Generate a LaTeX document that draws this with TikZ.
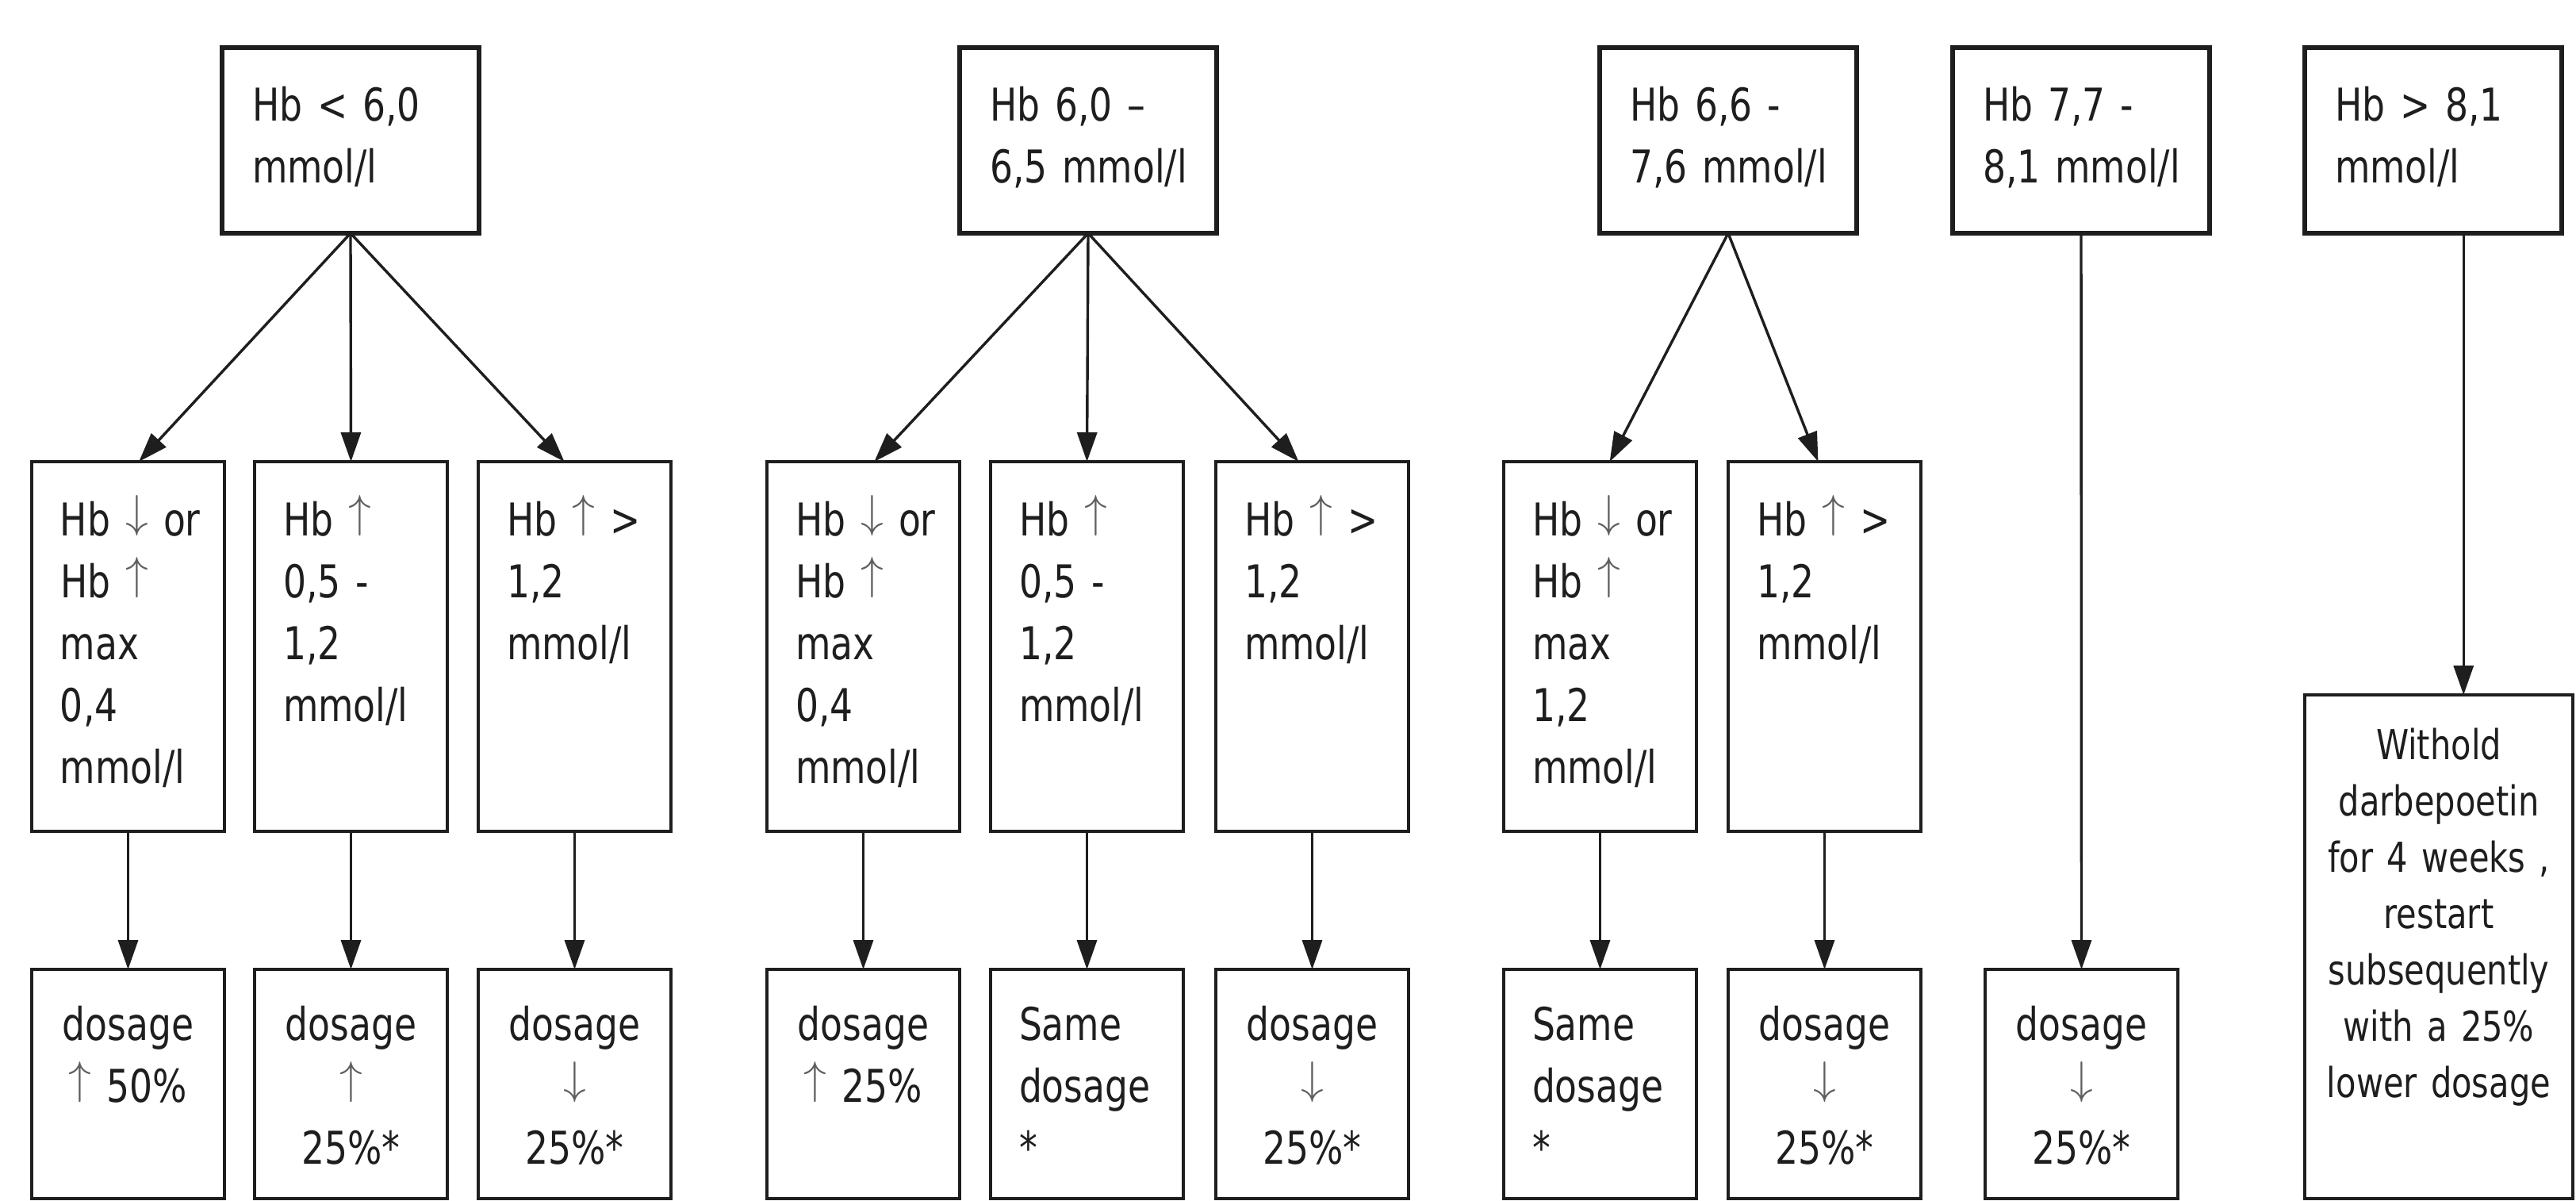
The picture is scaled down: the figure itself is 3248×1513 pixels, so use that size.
\documentclass[tikz,border=0pt]{standalone}
\usepackage{fontspec}
\setmainfont[FakeStretch=0.8]{DejaVu Sans}
\usetikzlibrary{arrows.meta,calc}
\definecolor{ink}{RGB}{30,30,30}
\definecolor{arrgray}{RGB}{95,95,95}
\newcommand{\hbup}{\textcolor{arrgray}{\raisebox{0.19em}{$\uparrow$}}}
\newcommand{\hbdn}{\textcolor{arrgray}{\raisebox{0.19em}{$\downarrow$}}}
\begin{document}
\begin{tikzpicture}[x=0.25pt,y=-0.25pt,
  every node/.style={text=ink},
  topbox/.style={draw=ink, line width=1.3pt, anchor=north west, outer sep=0pt,
    inner xsep=9.5pt, inner ysep=0pt, text width=62pt, align=left,
    text height=23.1pt, text depth=35.4pt, font=\fontsize{14.25pt}{19.5pt}\selectfont},
  midbox/.style={draw=ink, line width=0.9pt, anchor=north west, outer sep=0pt,
    inner xsep=9pt, inner ysep=0pt, text width=42.75pt, align=left,
    text height=23.25pt, text depth=93.25pt, font=\fontsize{14.25pt}{19.5pt}\selectfont},
  botbox/.style={draw=ink, line width=0.9pt, anchor=north west, outer sep=0pt,
    inner xsep=9pt, inner ysep=0pt, text width=42.75pt, align=center,
    text height=22.25pt, text depth=50pt, font=\fontsize{14.25pt}{19.5pt}\selectfont},
  wbox/.style={draw=ink, line width=0.9pt, anchor=north west, outer sep=0pt,
    inner xsep=5pt, inner ysep=0pt, text width=74.5pt, align=center,
    text height=20.25pt, text depth=138.5pt, font=\fontsize{13pt}{17.75pt}\selectfont},
  arr/.style={draw=ink, line width=0.85pt, -{Triangle[width=6.25pt,length=9.25pt]}}
]
\useasboundingbox (0,0) rectangle (3248,1513);
\fill[white] (0,0) rectangle (3248,1513);

% top row
\node[topbox] (T1) at (280,60) {\mbox{Hb < 6,0}\\mmol/l};
\node[topbox] (T2) at (1210,60) {\mbox{Hb 6,0 –}\\\mbox{6,5 mmol/l}};
\node[topbox] (T3) at (2017,60) {\mbox{Hb 6,6 -}\\\mbox{7,6 mmol/l}};
\node[topbox] (T4) at (2462,60) {\mbox{Hb 7,7 -}\\\mbox{8,1 mmol/l}};
\node[topbox] (T5) at (2906,60) {\mbox{Hb > 8,1}\\mmol/l};

% middle row
\node[midbox] (MA) at (40,582) {\mbox{Hb \hbdn{} or}\\\mbox{Hb \hbup}\\max\\0,4\\mmol/l};
\node[midbox] (MB) at (321,582) {\mbox{Hb \hbup}\\\mbox{0,5 -}\\1,2\\mmol/l};
\node[midbox] (MC) at (603,582) {\mbox{Hb \hbup{} >}\\1,2\\mmol/l};
\node[midbox] (MD) at (967,582) {\mbox{Hb \hbdn{} or}\\\mbox{Hb \hbup}\\max\\0,4\\mmol/l};
\node[midbox] (ME) at (1249,582) {\mbox{Hb \hbup}\\\mbox{0,5 -}\\1,2\\mmol/l};
\node[midbox] (MF) at (1533,582) {\mbox{Hb \hbup{} >}\\1,2\\mmol/l};
\node[midbox] (MG) at (1896,582) {\mbox{Hb \hbdn{} or}\\\mbox{Hb \hbup}\\max\\1,2\\mmol/l};
\node[midbox] (MH) at (2179,582) {\mbox{Hb \hbup{} >}\\1,2\\mmol/l};

% bottom row
\node[botbox] (BA) at (40,1222) {dosage\\\mbox{\hbup{} 50\%}};
\node[botbox] (BB) at (321,1222) {dosage\\\hbup\\25\%*};
\node[botbox] (BC) at (603,1222) {dosage\\\hbdn\\25\%*};
\node[botbox] (BD) at (967,1222) {dosage\\\mbox{\hbup{} 25\%}};
\node[botbox, align=left] (BE) at (1249,1222) {Same\\dosage\\{}*};
\node[botbox] (BF) at (1533,1222) {dosage\\\hbdn\\25\%*};
\node[botbox, align=left] (BG) at (1896,1222) {Same\\dosage\\{}*};
\node[botbox] (BH) at (2179,1222) {dosage\\\hbdn\\25\%*};
\node[botbox] (BI) at (2503,1222) {dosage\\\hbdn\\25\%*};
\node[wbox] (W) at (2906,876) {Withold\\darbepoetin\\\mbox{for 4 weeks ,}\\restart\\subsequently\\\mbox{with a 25\%}\\\mbox{lower dosage}};

% arrows top -> middle
\draw[arr] (T1.south) -- ($(MA.north west)!0.556!(MA.north east)$);
\draw[arr] (T1.south) -- (MB.north);
\draw[arr] (T1.south) -- ($(MC.north west)!0.447!(MC.north east)$);
\draw[arr] (T2.south) -- ($(MD.north west)!0.557!(MD.north east)$);
\draw[arr] (T2.south) -- (ME.north);
\draw[arr] (T2.south) -- ($(MF.north west)!0.43!(MF.north east)$);
\draw[arr] (T3.south) -- ($(MG.north west)!0.55!(MG.north east)$);
\draw[arr] (T3.south) -- ($(MH.north west)!0.467!(MH.north east)$);
\draw[arr] (T4.south) -- (BI.north);
\coordinate (w5) at ($(T5.south west)!0.618!(T5.south east)$);
\draw[arr] (w5) -- (w5 |- W.north);

% arrows middle -> bottom
\draw[arr] (MA.south) -- (BA.north);
\draw[arr] (MB.south) -- (BB.north);
\draw[arr] (MC.south) -- (BC.north);
\draw[arr] (MD.south) -- (BD.north);
\draw[arr] (ME.south) -- (BE.north);
\draw[arr] (MF.south) -- (BF.north);
\draw[arr] (MG.south) -- (BG.north);
\draw[arr] (MH.south) -- (BH.north);
\end{tikzpicture}
\end{document}
